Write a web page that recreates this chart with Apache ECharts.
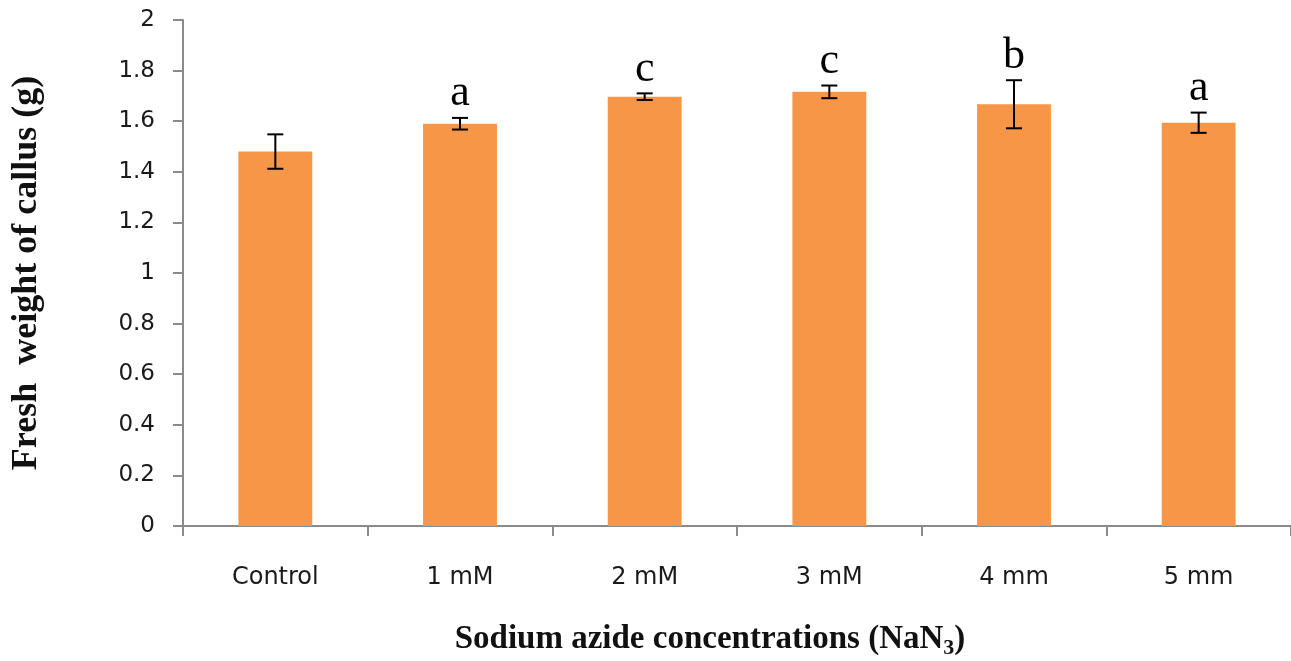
<!DOCTYPE html>
<html>
<head>
<meta charset="utf-8">
<script src="https://cdn.jsdelivr.net/npm/echarts@6/dist/echarts.min.js"></script>
<style>
  html, body { margin: 0; padding: 0; background: #ffffff; }
  #chart { width: 1291px; height: 661px; }
</style>
</head>
<body>
<div id="chart"></div>
<script>
// Fresh callus weight per sodium azide treatment
const categories = ['Control', '1 mM', '2 mM', '3 mM', '4 mm', '5 mm'];
const meanWeight = [1.48, 1.59, 1.697, 1.716, 1.667, 1.594];
const errorSize = [0.068, 0.023, 0.013, 0.025, 0.095, 0.04];
const groupLetters = ['', 'a', 'c', 'c', 'b', 'a'];
const yMin = 0;
const yMax = 2;
const yStep = 0.2;

const errorData = categories.map((c, i) => [i, meanWeight[i] - errorSize[i], meanWeight[i] + errorSize[i]]);

const chart = echarts.init(document.getElementById('chart'), null, { renderer: 'canvas' });

const axisColor = '#8a8a8a';
const sans = '"DejaVu Sans", Verdana, sans-serif';
const serif = '"Liberation Serif", "Times New Roman", serif';

chart.setOption({
  backgroundColor: '#ffffff',
  animation: false,
  grid: { left: 183, right: -8, top: 20, bottom: 135, containLabel: false },
  title: {
    text: '{t|Sodium azide concentrations (NaN}{s|3}{t|)}',
    left: 705,
    top: 614,
    textAlign: 'center',
    textStyle: {
      rich: {
        t: { fontFamily: serif, fontWeight: 'bold', fontSize: 33, color: '#111', lineHeight: 40, verticalAlign: 'middle' },
        s: { fontFamily: serif, fontWeight: 'bold', fontSize: 22, color: '#111', lineHeight: 14, verticalAlign: 'bottom' }
      }
    }
  },
  xAxis: {
    type: 'category',
    data: categories,
    axisLine: { lineStyle: { color: axisColor, width: 2 } },
    axisTick: { show: true, length: 10, lineStyle: { color: axisColor, width: 2 } },
    axisLabel: { margin: 40, fontFamily: sans, fontSize: 24, color: '#1a1a1a' },
    splitLine: { show: false }
  },
  yAxis: {
    type: 'value',
    min: yMin,
    max: yMax,
    interval: yStep,
    name: 'Fresh  weight of callus (g)',
    nameLocation: 'middle',
    nameRotate: 90,
    nameGap: 138,
    nameTextStyle: { fontFamily: serif, fontWeight: 'bold', fontSize: 36, color: '#111' },
    axisLine: { show: true, lineStyle: { color: axisColor, width: 2 } },
    axisTick: { show: true, length: 10, lineStyle: { color: axisColor, width: 2 } },
    axisLabel: { margin: 28, fontFamily: sans, fontSize: 23, color: '#1a1a1a' },
    splitLine: { show: false }
  },
  series: [
    {
      type: 'bar',
      data: meanWeight,
      barWidth: '40%',
      itemStyle: { color: '#F79646' }
    },
    {
      type: 'custom',
      data: errorData,
      encode: { x: 0, y: [1, 2] },
      z: 5,
      clip: false,
      renderItem: function (params, api) {
        const i = api.value(0);
        const lo = api.coord([i, api.value(1)]);
        const hi = api.coord([i, api.value(2)]);
        const x = lo[0];
        const cap = 8;
        const stroke = { stroke: '#000', lineWidth: 2 };
        const children = [
          { type: 'line', shape: { x1: x, y1: hi[1], x2: x, y2: lo[1] }, style: stroke },
          { type: 'line', shape: { x1: x - cap, y1: hi[1], x2: x + cap, y2: hi[1] }, style: stroke },
          { type: 'line', shape: { x1: x - cap, y1: lo[1], x2: x + cap, y2: lo[1] }, style: stroke }
        ];
        const letter = groupLetters[params.dataIndex];
        if (letter) {
          children.push({
            type: 'text',
            x: x,
            y: hi[1] - 2,
            style: {
              text: letter,
              font: '44px ' + serif,
              fill: '#000',
              align: 'center',
              verticalAlign: 'bottom'
            }
          });
        }
        return { type: 'group', children: children };
      }
    }
  ]
});
</script>
</body>
</html>
